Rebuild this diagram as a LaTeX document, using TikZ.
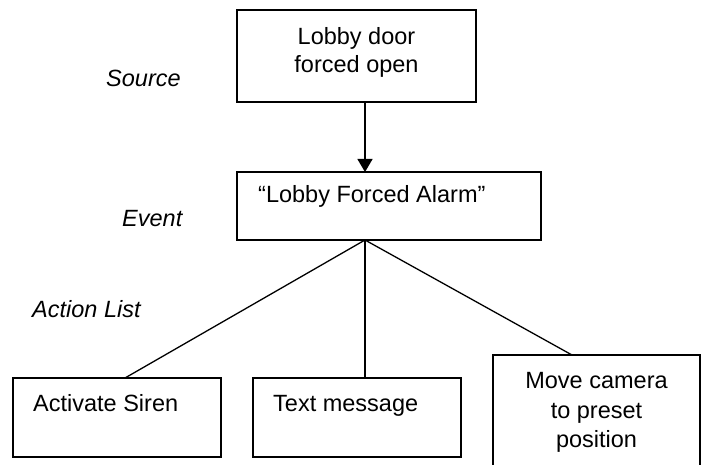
\documentclass[tikz,border=0pt]{standalone}
\usepackage{fontspec}
\setmainfont{Liberation Sans}
\usetikzlibrary{arrows.meta}
\begin{document}
\begin{tikzpicture}[x=1pt,y=-1pt,
  box/.style={draw,line width=1.6pt,inner sep=0pt,outer sep=0pt,anchor=north west},
  txt/.style={font=\fontsize{23.5}{28}\selectfont,inner sep=0pt},
  lbl/.style={font=\fontsize{23.5}{28}\selectfont\itshape,inner sep=0pt},
  conn/.style={line width=1.3pt}]
\useasboundingbox (0,0) rectangle (704,465);
\clip (0,0) rectangle (704,465);
% boxes
\node[box,minimum width=239pt,minimum height=92pt] (src) at (237,10) {};
\node[box,minimum width=304pt,minimum height=68pt] (evt) at (237,172) {};
\node[box,minimum width=208pt,minimum height=79pt] (siren) at (13,378) {};
\node[box,minimum width=208pt,minimum height=79pt] (msg) at (253,378) {};
\node[box,minimum width=207pt,minimum height=130pt] (cam) at (493,355) {};
% texts
\node[txt,anchor=base] (srcA) at (356.5,45) {Lobby door};
\node[txt,anchor=base] (srcB) at (356.5,73) {forced open};
\node[txt,anchor=base west] (evtT) at (258,203) {“Lobby Forced Alarm”};
\node[txt,anchor=base west] (sirenT) at (33,411) {Activate Siren};
\node[txt,anchor=base west] (msgT) at (273,411) {Text message};
\node[txt,anchor=base] (camA) at (596.5,388) {Move camera};
\node[txt,anchor=base] (camB) at (596.5,418) {to preset};
\node[txt,anchor=base] (camC) at (596.5,447) {position};
% side labels
\node[lbl,anchor=base west] (lsrc) at (106,87) {Source};
\node[lbl,anchor=base west] (levt) at (122,226) {Event};
\node[lbl,anchor=base west] (lact) at (32,317) {Action List};
% connectors
\coordinate (hub) at (365,0);
\coordinate (sx) at (125,0);
\coordinate (cx) at (572,0);
\draw[conn,-{Triangle[length=13pt,width=15pt]}] (src.south -| hub) -- (evt.north -| hub);
\draw[conn] (evt.south -| hub) -- (siren.north -| sx);
\draw[conn] (evt.south -| hub) -- (msg.north -| hub);
\draw[conn] (evt.south -| hub) -- (cam.north -| cx);
\end{tikzpicture}
\end{document}
